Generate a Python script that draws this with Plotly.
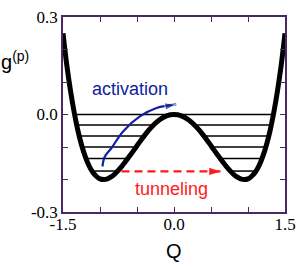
import numpy as np
import plotly.graph_objects as go

# Potential curve g^(p)(Q)
q_vals = [-1.50, -1.45, -1.40, -1.35, -1.30, -1.25, -1.20, -1.15, -1.10, -1.05, -1.00, -0.95,
          -0.90, -0.85, -0.80, -0.70, -0.60, -0.50, -0.40, -0.30, -0.20, -0.10, 0.00,
          0.10, 0.20, 0.30, 0.40, 0.50, 0.60, 0.70, 0.80, 0.85, 0.90, 0.95, 1.00,
          1.05, 1.10, 1.15, 1.20, 1.25, 1.30, 1.35, 1.40, 1.45, 1.50]
g_vals = [0.250, 0.154, 0.075, 0.008, -0.048, -0.093, -0.129, -0.157, -0.177, -0.190, -0.198, -0.200,
          -0.198, -0.192, -0.183, -0.158, -0.128, -0.096, -0.065, -0.038, -0.017, -0.004, 0.000,
          -0.004, -0.017, -0.038, -0.065, -0.096, -0.128, -0.158, -0.183, -0.192, -0.198, -0.200, -0.198,
          -0.190, -0.177, -0.157, -0.129, -0.093, -0.048, 0.008, 0.075, 0.154, 0.250]

# Energy levels (horizontal lines)
levels = [0.000, -0.032, -0.066, -0.100, -0.135, -0.174]

# Activation arrow path
act_q = [-0.967, -0.936, -0.845, -0.688, -0.462, -0.236, 0.030]
act_g = [-0.160, -0.130, -0.103, -0.052, -0.006, 0.020, 0.031]

# Tunneling arrow
tun_q = [-0.71, 0.63]
tun_g = [-0.175, -0.175]

x_ticks = [-1.5, -1.0, -0.5, 0.0, 0.5, 1.0, 1.5]
x_labels = ["-1.5", "", "", "0.0", "", "", "1.5"]
y_ticks = [-0.3, -0.2, -0.1, 0.0, 0.1, 0.2, 0.3]
y_labels = ["-0.3", "", "", "0.0", "", "", "0.3"]

FRAME = "#4a2868"

fig = go.Figure()

# level line segments where the curve lies below the level
qa = np.array(q_vals)
ga = np.array(g_vals)
for E in levels:
    xs, ys = [], []
    d = ga - E
    crossings = []
    for i in range(len(qa) - 1):
        if d[i] == 0:
            crossings.append(qa[i])
        elif d[i] * d[i + 1] < 0:
            t = d[i] / (d[i] - d[i + 1])
            crossings.append(qa[i] + t * (qa[i + 1] - qa[i]))
    if E == 0.0:
        crossings = [crossings[0], crossings[-1]]
    for j in range(0, len(crossings) - 1, 2):
        xs += [crossings[j], crossings[j + 1], None]
        ys += [E, E, None]
    fig.add_trace(go.Scatter(x=xs, y=ys, mode="lines",
                             line=dict(color="black", width=1.5),
                             hoverinfo="skip", showlegend=False))

# potential curve
fig.add_trace(go.Scatter(x=q_vals, y=g_vals, mode="lines",
                         line=dict(color="black", width=5, shape="spline"),
                         showlegend=False))

# activation arrow
fig.add_trace(go.Scatter(x=act_q, y=act_g, mode="lines+markers",
                         line=dict(color="#1020a0", width=2.2, shape="spline"),
                         marker=dict(symbol="arrow", angleref="previous",
                                     size=[0] * (len(act_q) - 1) + [12],
                                     color="#1020a0"),
                         showlegend=False))

# tunneling arrow
fig.add_trace(go.Scatter(x=tun_q, y=tun_g, mode="lines",
                         line=dict(color="#ff1a1a", width=2.2, dash="8px,5px"),
                         showlegend=False))
fig.add_trace(go.Scatter(x=[tun_q[-1]], y=[tun_g[-1]], mode="markers",
                         marker=dict(symbol="arrow", angle=90, size=12, color="#ff1a1a"),
                         showlegend=False))

axis_common = dict(showgrid=False, zeroline=False, showline=True, linecolor=FRAME,
                   linewidth=1.5, mirror="ticks", ticks="inside", ticklen=5,
                   tickcolor=FRAME, tickwidth=1.3, automargin=False,
                   ticklabeloverflow="allow",
                   tickfont=dict(family="Liberation Serif", size=17, color="black"))

fig.update_layout(
    width=305, height=268,
    margin=dict(l=63, r=20, t=17, b=56),
    paper_bgcolor="white", plot_bgcolor="white",
    xaxis=dict(range=[-1.5, 1.5], tickvals=x_ticks, ticktext=x_labels,
               ticklabelstandoff=-4, **axis_common),
    yaxis=dict(range=[-0.3, 0.3], tickvals=y_ticks, ticktext=y_labels,
               ticklabelstandoff=0, **axis_common),
    annotations=[
        dict(text="Q", xref="paper", yref="paper", x=0.5, y=-0.2, yanchor="middle",
             showarrow=False, font=dict(family="Liberation Sans", size=20, color="black")),
        dict(text="g<sup>(p)</sup>", xref="paper", yref="paper", x=-0.215, y=0.775,
             xanchor="center", yanchor="middle", showarrow=False,
             font=dict(family="Liberation Sans", size=20, color="black")),
        dict(text="activation", x=-0.6, y=0.08, showarrow=False,
             font=dict(family="Liberation Sans", size=18, color="#1020a0")),
        dict(text="tunneling", x=-0.04, y=-0.228, showarrow=False,
             font=dict(family="Liberation Sans", size=18, color="#ff1a1a")),
    ],
)

fig.write_html("out.html", config={"displayModeBar": False},
               post_script="document.body.style.margin='0';document.body.style.padding='0';")
